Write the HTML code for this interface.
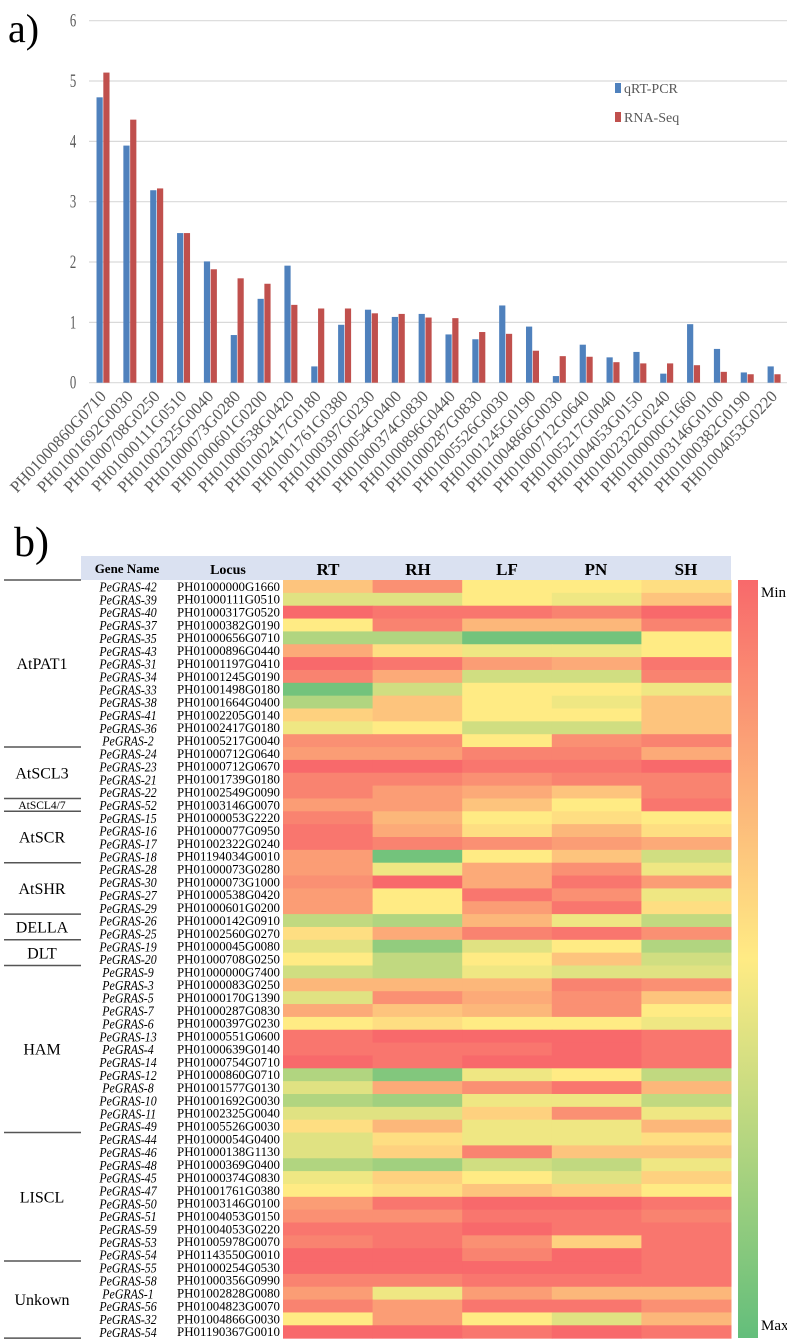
<!DOCTYPE html>
<html><head><meta charset="utf-8">
<style>
html,body{margin:0;padding:0;background:#fff;width:787px;height:1344px;overflow:hidden}
svg{display:block}
</style></head>
<body>
<svg id="fig" width="787" height="1344" xmlns="http://www.w3.org/2000/svg" font-family="Liberation Serif, serif">
  <text x="8" y="42" font-size="40" fill="#000">a)</text>
  <g id="gridG"></g>
  <g id="yTicks"></g>
  <g id="barsG"></g>
  <g id="xLabels"></g>
  <g>
    <rect x="615" y="83" width="6" height="10" fill="#4f81bd"/>
    <text x="624" y="93" font-size="14" fill="#595959">qRT-PCR</text>
    <rect x="615" y="112" width="6" height="10" fill="#c0504d"/>
    <text x="624" y="122" font-size="14" fill="#595959">RNA-Seq</text>
  </g>

  <text x="14" y="556" font-size="42" fill="#000">b)</text>
  <rect x="81" y="556" width="650" height="24" fill="#dae1f1"/>
  <g font-weight="bold" fill="#000" text-anchor="middle">
    <text x="127" y="573" font-size="13">Gene Name</text>
    <text x="228" y="574" font-size="14">Locus</text>
    <text x="328" y="575" font-size="17">RT</text>
    <text x="418" y="575" font-size="17">RH</text>
    <text x="507" y="575" font-size="17">LF</text>
    <text x="596" y="575" font-size="17">PN</text>
    <text x="686" y="575" font-size="17">SH</text>
  </g>
  <g id="heatG"></g>
  <g id="rowLabels"></g>
  <g id="groupG"></g>
  <defs>
    <linearGradient id="cbar" x1="0" y1="0" x2="0" y2="1">
      <stop offset="0" stop-color="#f8696b"/>
      <stop offset="0.5" stop-color="#ffeb84"/>
      <stop offset="1" stop-color="#63be7b"/>
    </linearGradient>
  </defs>
  <rect x="738" y="580" width="20" height="758" fill="url(#cbar)"/>
  <text x="761" y="597" font-size="15" fill="#000">Min</text>
  <text x="761" y="1330" font-size="15" fill="#000">Max</text>
</svg>
<script>
// ---- Bar chart data ----
const categories = ["PH01000860G0710","PH01001692G0030","PH01000708G0250","PH01000111G0510","PH01002325G0040","PH01000073G0280","PH01000601G0200","PH01000538G0420","PH01002417G0180","PH01001761G0380","PH01000397G0230","PH01000054G0400","PH01000374G0830","PH01000896G0440","PH01000287G0830","PH01005526G0030","PH01001245G0190","PH01004866G0030","PH01000712G0640","PH01005217G0040","PH01004053G0150","PH01002322G0240","PH01000000G1660","PH01003146G0100","PH01000382G0190","PH01004053G0220"];
const qrtpcr = [4.73,3.93,3.19,2.48,2.01,0.79,1.39,1.94,0.27,0.96,1.21,1.09,1.14,0.80,0.72,1.28,0.93,0.11,0.63,0.42,0.51,0.15,0.97,0.56,0.17,0.27];
const rnaseq = [5.14,4.36,3.22,2.48,1.88,1.73,1.64,1.29,1.23,1.23,1.15,1.14,1.08,1.07,0.84,0.81,0.53,0.44,0.43,0.34,0.32,0.32,0.29,0.18,0.14,0.14];
const yTickVals = [0,1,2,3,4,5,6];

// ---- Heatmap data (0 = red/min, 5 = yellow, 10 = green/max) ----
const geneNames = ["PeGRAS-42","PeGRAS-39","PeGRAS-40","PeGRAS-37","PeGRAS-35","PeGRAS-43","PeGRAS-31","PeGRAS-34","PeGRAS-33","PeGRAS-38","PeGRAS-41","PeGRAS-36","PeGRAS-2","PeGRAS-24","PeGRAS-23","PeGRAS-21","PeGRAS-22","PeGRAS-52","PeGRAS-15","PeGRAS-16","PeGRAS-17","PeGRAS-18","PeGRAS-28","PeGRAS-30","PeGRAS-27","PeGRAS-29","PeGRAS-26","PeGRAS-25","PeGRAS-19","PeGRAS-20","PeGRAS-9","PeGRAS-3","PeGRAS-5","PeGRAS-7","PeGRAS-6","PeGRAS-13","PeGRAS-4","PeGRAS-14","PeGRAS-12","PeGRAS-8","PeGRAS-10","PeGRAS-11","PeGRAS-49","PeGRAS-44","PeGRAS-46","PeGRAS-48","PeGRAS-45","PeGRAS-47","PeGRAS-50","PeGRAS-51","PeGRAS-59","PeGRAS-53","PeGRAS-54","PeGRAS-55","PeGRAS-58","PeGRAS-1","PeGRAS-56","PeGRAS-32","PeGRAS-54"];
const loci = ["PH01000000G1660","PH01000111G0510","PH01000317G0520","PH01000382G0190","PH01000656G0710","PH01000896G0440","PH01001197G0410","PH01001245G0190","PH01001498G0180","PH01001664G0400","PH01002205G0140","PH01002417G0180","PH01005217G0040","PH01000712G0640","PH01000712G0670","PH01001739G0180","PH01002549G0090","PH01003146G0070","PH01000053G2220","PH01000077G0950","PH01002322G0240","PH01194034G0010","PH01000073G0280","PH01000073G1000","PH01000538G0420","PH01000601G0200","PH01000142G0910","PH01002560G0270","PH01000045G0080","PH01000708G0250","PH01000000G7400","PH01000083G0250","PH01000170G1390","PH01000287G0830","PH01000397G0230","PH01000551G0600","PH01000639G0140","PH01000754G0710","PH01000860G0710","PH01001577G0130","PH01001692G0030","PH01002325G0040","PH01005526G0030","PH01000054G0400","PH01000138G1130","PH01000369G0400","PH01000374G0830","PH01001761G0380","PH01003146G0100","PH01004053G0150","PH01004053G0220","PH01005978G0070","PH01143550G0010","PH01000254G0530","PH01000356G0990","PH01002828G0080","PH01004823G0070","PH01004866G0030","PH01190367G0010"];
const tissues = ["RT","RH","LF","PN","SH"];
const valRT = [3.5,6,0,5,7.5,2.5,0,1,9.5,7.5,4,5.5,1.5,2,0,1,1,2,1,0.5,0.5,2,2,1.5,2,2,7,4.5,6,5,6.5,3,6,2.5,5,0.5,0.5,0,7.5,6,7.5,6,4.5,6,6,7.5,5.5,5,2,1.5,0.5,1,0,0,1,2,1,5,0];
const valRH = [1.5,6,0.5,1,7.5,4.5,0.5,2.5,6.5,3.5,3.5,5,1.5,2,0,1,2,2,3,2.5,1,9.5,5.5,0,5,5,7.5,2.5,8.5,7,7,3,1.5,3.5,4.5,0,0.5,0.5,9,2.5,8,6,3,4.5,4,8,4,4.5,0.5,1.5,0.5,0.5,0,0,1,5.5,2,2,0];
const valLF = [5,5,0.5,3,9.5,5.5,2,6.5,5,5,5,6.5,5,1,0.5,1.5,2.5,3.5,5,4.5,1.5,5,2.5,2.5,0.5,2,3,1,6,5,5.5,3,2.5,3,5,0,0.5,0,5.5,1.5,5.5,4,5.5,5.5,1,6.5,5,3.5,0,0.5,0,1.5,1,0,0.5,2,0.5,5,0.5];
const valPN = [5,5.5,1,3,9.5,5.5,2.5,6.5,5,5.5,5,6.5,1.5,1,0.5,1,3.5,5,4.5,3,2,3.5,1.5,0.5,1.5,0.5,5.5,0.5,5,3.5,6,1,1.5,1.5,5,0,0,0,5,0.5,5.5,1.5,5.5,5.5,3.5,7,6,4,0,0.5,0.5,4,0,0,0.5,3,0.5,6,0];
const valSH = [4.5,3.5,0,1,5,5,0.5,1,5.5,3.5,3.5,3.5,1,2.5,0,1,1,0.5,5,4.5,2.5,6.5,5.5,2,5.5,4.5,7,1.5,7.5,6.5,6,1.5,3.5,5,5.5,0.5,0.5,0.5,7,3,7,5.5,3,4.5,3.5,5.5,4,5,0.5,1,0.5,0.5,0.5,0.5,0.5,3,1.5,3,0.5];
const groupNames = ["AtPAT1","AtSCL3","AtSCL4/7","AtSCR","AtSHR","DELLA","DLT","HAM","LISCL","Unkown"];
const groupSizes = [13,4,1,4,4,2,2,13,10,6];

const NS = "http://www.w3.org/2000/svg";
function mk(tag, attrs, parent){const e=document.createElementNS(NS,tag);for(const k in attrs)e.setAttribute(k,attrs[k]);parent.appendChild(e);return e;}

// ---- Bar chart axes ----
const plotX0 = 89.6, plotX1 = 787.5, yZero = 382.7, yTop = 20.7, yMax = 6;
const yScale = v => yZero - (v / yMax) * (yZero - yTop);
const step = (plotX1 - plotX0) / categories.length;
const xCenter = i => plotX0 + step * (i + 0.5);
const barW = 6.2;

const gridG = document.getElementById('gridG');
const yTicks = document.getElementById('yTicks');
yTickVals.forEach(v => {
  const ln = mk('line', {x1: 89, x2: 787, y1: yScale(v), y2: yScale(v), stroke: '#d9d9d9', 'stroke-width': 1.2}, gridG);
  
  
  const t = mk('text', {x: 0, y: 0, 'font-size': 15, fill: '#595959', 'text-anchor': 'middle', transform: 'translate(73,' + (yScale(v) + 6) + ') scale(0.85,1.25)'}, yTicks);
  t.textContent = String(v);
  
  
});
const barsG = document.getElementById('barsG');
const xLabels = document.getElementById('xLabels');
categories.forEach((c, i) => {
  const cx = xCenter(i);
  const b1 = mk('rect', {x: cx - barW - 0.3, y: yScale(qrtpcr[i]), width: barW, height: yZero - yScale(qrtpcr[i]), fill: '#4f81bd'}, barsG);
  
  
  const b2 = mk('rect', {x: cx + 0.3, y: yScale(rnaseq[i]), width: barW, height: yZero - yScale(rnaseq[i]), fill: '#c0504d'}, barsG);
  
  
  const t = mk('text', {x: 0, y: 0, 'font-size': 16.5, fill: '#595959', 'text-anchor': 'end', transform: 'translate(' + (cx + 4) + ',397) rotate(-47)'}, xLabels);
  t.textContent = c;
  
  
});

// ---- Heatmap ----
const hx0 = 283, colW = 89.6, hy0 = 580, rowH = 12.85;
const cols = [valRT, valRH, valLF, valPN, valSH];
const red = [248,105,107], yel = [255,235,132], grn = [99,190,123];
function color(v){
  let a, b, t;
  if (v <= 5) { a = red; b = yel; t = v / 5; } else { a = yel; b = grn; t = (v - 5) / 5; }
  const c = a.map((x, k) => Math.round(x + (b[k] - x) * t));
  return 'rgb(' + c.join(',') + ')';
}
const heatG = document.getElementById('heatG');
const rowLabels = document.getElementById('rowLabels');
geneNames.forEach((g, r) => {
  const y = hy0 + r * rowH;
  cols.forEach((arr, c) => {
    const rc = mk('rect', {x: hx0 + c * colW, y: y, width: colW + 0.5, height: rowH + 0.5, fill: color(arr[r])}, heatG);
    
    
  });
  const tg = mk('text', {x: 0, y: 0, 'font-size': 12.5, 'font-style': 'italic', fill: '#000', 'text-anchor': 'middle', transform: 'translate(128,' + (y + 11.5) + ') scale(0.95,1.12)'}, rowLabels);
  tg.textContent = g;
  
  
  const tl = mk('text', {x: 177, y: y + 10.8, 'font-size': 13, fill: '#000', textLength: 103, lengthAdjust: 'spacingAndGlyphs'}, rowLabels);
  tl.textContent = loci[r];
  
  
});
const groupG = document.getElementById('groupG');
let acc = 0;
const l0 = mk('line', {x1: 4, x2: 81, y1: hy0, y2: hy0, stroke: '#555', 'stroke-width': 1.5}, groupG);


groupNames.forEach((n, i) => {
  const yStart = hy0 + acc * rowH;
  acc += groupSizes[i];
  const yEnd = hy0 + acc * rowH;
  const ln = mk('line', {x1: 4, x2: 81, y1: yEnd, y2: yEnd, stroke: '#555', 'stroke-width': 1.5}, groupG);
  
  
  const fs = groupSizes[i] === 1 ? 11.5 : 16;
  const t = mk('text', {x: 42, y: (yStart + yEnd) / 2 + fs * 0.35, 'font-size': fs, fill: '#000', 'text-anchor': 'middle'}, groupG);
  t.textContent = n;
  
  
});
</script>
</body></html>
